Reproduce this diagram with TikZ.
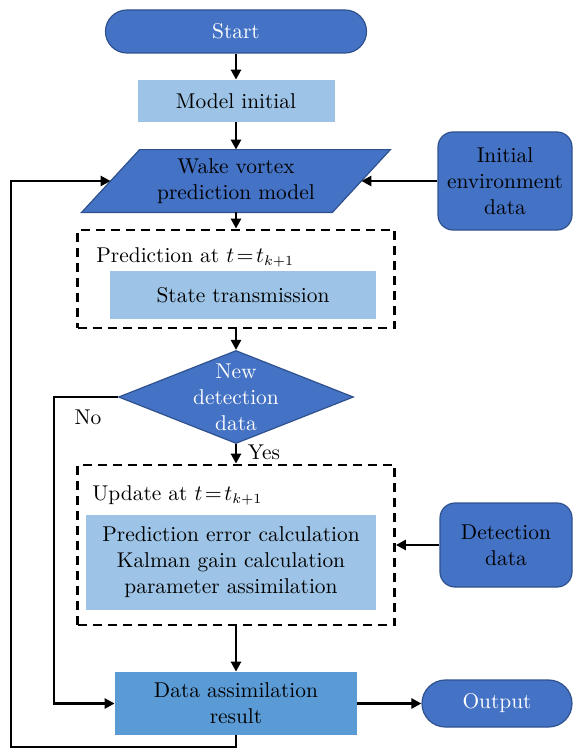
\documentclass[tikz,border=0pt]{standalone}
\usepackage{fontspec}
\usetikzlibrary{shapes.geometric, arrows.meta, backgrounds}
\definecolor{darkbox}{HTML}{4472C4}
\definecolor{darkedge}{HTML}{2F528F}
\definecolor{lightbox}{HTML}{9DC3E6}
\definecolor{midbox}{HTML}{5B9BD5}

\begin{document}
\begin{tikzpicture}[x=0.5pt, y=-0.5pt, font=\fontsize{10.7}{13}\selectfont,
	terminal/.style={draw=darkedge, fill=darkbox, text=white, line width=0.6pt},
	darknode/.style={draw=darkedge, fill=darkbox, line width=0.6pt, align=center},
	lightnode/.style={fill=lightbox, align=center},
	group/.style={draw, dashed, line width=1.4pt, dash pattern=on 4.5pt off 3pt},
	arr/.style={-{Triangle[length=5pt, width=5pt]}, line width=1.3pt}]
	\useasboundingbox (0,0) rectangle (573,749);
	\node[group, minimum width=158.5pt, minimum height=49pt] (predgroup) at (236,279) {};
	\node[group, minimum width=158.5pt, minimum height=80pt] (updgroup) at (236,545) {};
	\node[terminal, rounded corners=10.7pt, minimum width=130.5pt, minimum height=21.5pt] (start) at (236,31.5) {Start};
	\node[lightnode, minimum width=98.5pt, minimum height=21pt] (init) at (236,101) {Model initial};
	\node[align=center, minimum width=125pt, minimum height=31pt, inner sep=0pt] (wake) at (236,181) {Wake vortex\\prediction model};
	\begin{scope}[on background layer]
		\filldraw[darknode] ([xshift=-14.5pt]wake.south west) -- ([xshift=-14.5pt]wake.south east)
			-- ([xshift=14.5pt]wake.north east) -- ([xshift=14.5pt]wake.north west) -- cycle;
	\end{scope}
	\node[darknode, rounded corners=7.5pt, minimum width=67pt, minimum height=49pt] (env) at (505,181) {Initial\\environment\\data};
	\node[anchor=base west, inner sep=0pt] (predlab) at (96,262) {Prediction at $t\!=\!t_{k+1}$};
	\node[lightnode, minimum width=133pt, minimum height=24pt] (state) at (243,295) {State transmission};
	\node[darknode, diamond, minimum width=117.5pt, minimum height=46.5pt, inner sep=0pt,
		label={[text=white, align=center]center:New\\detection\\data}] (dec) at (236,397) {};
	\node (nolab) at (88,417) {No};
	\node (yeslab) at (264,452) {Yes};
	\node[anchor=base west, inner sep=0pt] (updlab) at (92,500) {Update at $t\!=\!t_{k+1}$};
	\node[lightnode, minimum width=145pt, minimum height=47.5pt] (calc) at (231,562.5) {Prediction error calculation\\Kalman gain calculation\\parameter assimilation};
	\node[darknode, rounded corners=7.5pt, minimum width=66pt, minimum height=42pt] (det) at (506,545) {Detection\\data};
	\node[fill=midbox, align=center, minimum width=121pt, minimum height=31.5pt] (result) at (236,703.5) {Data assimilation\\result};
	\node[terminal, rounded corners=11.7pt, minimum width=75pt, minimum height=23.5pt] (output) at (497,703.5) {Output};
	\coordinate (lcorner) at (11,747);

	\draw[arr] (start) -- (init);
	\draw[arr] (init) -- (wake);
	\draw[arr] (env) -- (wake);
	\draw[arr] (wake.south) -- (predgroup.north);
	\draw[arr] (predgroup.south) -- (dec.north);
	\draw[arr] (dec.south) -- (updgroup.north);
	\draw[arr] (det) -- (updgroup.east);
	\draw[arr] (updgroup.south) -- (result.north);
	\draw[arr] (result) -- (output);
	\draw[arr] (dec.west) -- ++(-64,0) |- (result.west);
	\draw[arr] (result.south) -- (result.south |- lcorner) -- (lcorner) |- (wake.west);
\end{tikzpicture}
\end{document}
